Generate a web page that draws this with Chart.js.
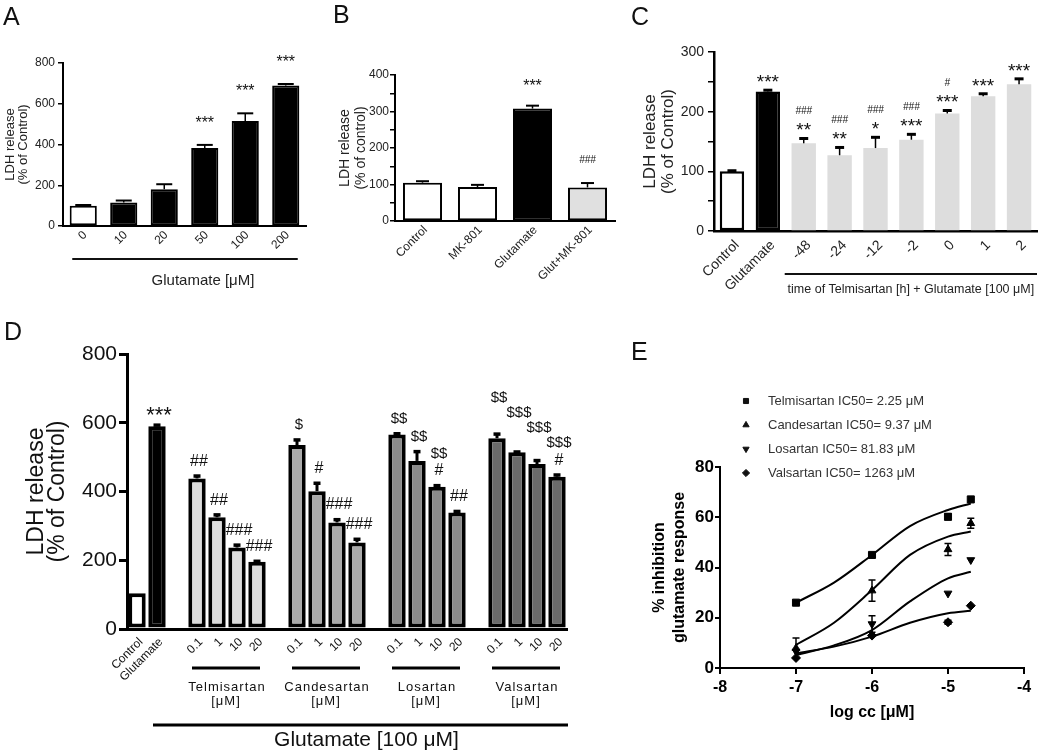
<!DOCTYPE html>
<html><head><meta charset="utf-8">
<script src="https://cdn.jsdelivr.net/npm/chart.js@4.4.1/dist/chart.umd.min.js"></script>
<style>
html,body{margin:0;padding:0;background:#fff;}
#page{position:relative;width:1050px;height:756px;overflow:hidden;background:#fff;}
canvas{position:absolute;}
.lbl{position:absolute;font-family:'Liberation Sans',Arial,sans-serif;font-size:25px;line-height:25px;color:#111;}
</style></head><body><div id="page">
<canvas id="cA" width="310" height="300" style="left:0px;top:0px"></canvas>
<canvas id="cB" width="310" height="300" style="left:310px;top:0px"></canvas>
<canvas id="cC" width="430" height="300" style="left:620px;top:0px"></canvas>
<canvas id="cD" width="600" height="426" style="left:0px;top:330px"></canvas>
<canvas id="cE" width="450" height="426" style="left:600px;top:330px"></canvas>
<div class="lbl" style="left:3px;top:4px">A</div>
<div class="lbl" style="left:333px;top:2px">B</div>
<div class="lbl" style="left:631px;top:4px">C</div>
<div class="lbl" style="left:4px;top:319px">D</div>
<div class="lbl" style="left:631px;top:339px">E</div>
</div>
<script>
// ---------- DATA ----------
// Panel A
const catsA = ['0','10','20','50','100','200'];
const valsA = [100,115,180,383,515,690];
const errsA = [3,10,25,15,38,7];
const notesA = [[],[],[],['***'],['***'],['***']];
// Panel B
const catsB = ['Control','MK-801','Glutamate','Glut+MK-801'];
const valsB = [105,93,308,92];
const errsB = [4,6,8,12];
const notesB = [[],[],['***'],['###']];
// Panel C
const catsC = ['Control','Glutamate','-48','-24','-12','-2','0','1','2'];
const valsC = [100,234,147,127,139,153,197,226,246];
const errsC = [1,2,8,13,18,9,5,4,9];
const notesC = [[],['***'],['###','**'],['###','**'],['###','*'],['###','***'],['#','***'],['***'],['***']];
// Panel D
const ctrlCatsD = ['Control','Glutamate'];
const ctrlValsD = [104,590];
const ctrlErrsD = [0,3];
const ctrlNotesD = [[],['***']];
const drugsD = ['Telmisartan','Candesartan','Losartan','Valsartan'];
const dosesD = ['0.1','1','10','20'];
const telmD = [438,325,237,196];
const candD = [535,401,310,252];
const losD  = [566,489,414,339];
const valD  = [555,514,480,443];
const telmErrD = [7,7,7,1];
const candErrD = [15,23,8,9];
const losErrD  = [2,27,3,3];
const valErrD  = [12,1,10,5];
const telmNotesD = [['##'],['##'],['###'],['###']];
const candNotesD = [['$'],['#'],['###'],['###']];
const losNotesD  = [['$$'],['$$'],['$$','#'],['##']];
const valNotesD  = [['$$'],['$$$'],['$$$'],['$$$','#']];
const groupTitleD = 'Glutamate [100 \u03bcM]';
// Panel E
const drugsE = ['Telmisartan','Candesartan','Losartan','Valsartan'];
const ic50E = ['2.25','9.37','81.83','1263'];
const logCC = [-7,-6,-5,-4.7];
const telmE = [26,45,60.2,67.1];
const candE = [7.9,30.8,47.2,57.6];
const losE  = [6.6,17.5,29.7,43];
const valE  = [4,12.9,18.2,24.8];
const telmErrE = [0,0.8,1.2,0];
const candErrE = [4,4.2,2.4,2];
const losErrE  = [0,3.3,0,0];
const valErrE  = [0,0,0.8,0];
const fitX = [-7,-6.5,-6,-5.5,-5,-4.7];
const telmFit = [26,34,45,56.5,62.9,65.5];
const candFit = [9.2,18,31,45,52.3,54.3];
const losFit  = [5.2,9,15.1,26.5,35.7,38.3];
const valFit  = [5.8,8.5,12.5,18,21.8,22.8];

// ---------- STYLE / HELPERS ----------
const FONT = "'Liberation Sans', Arial, Helvetica, sans-serif";
Chart.defaults.font.family = FONT;
Chart.defaults.color = '#222';

function hline(ctx, x1, x2, y, w, color) {
  ctx.save(); ctx.strokeStyle = color || '#000'; ctx.lineWidth = w;
  ctx.beginPath(); ctx.moveTo(x1, y); ctx.lineTo(x2, y); ctx.stroke(); ctx.restore();
}
function txt(ctx, t, x, y, font, color, align, spacing) {
  ctx.save(); ctx.font = font + ' ' + FONT; ctx.fillStyle = color || '#000';
  ctx.textAlign = align || 'center'; ctx.textBaseline = 'middle';
  if (spacing && 'letterSpacing' in ctx) ctx.letterSpacing = spacing;
  ctx.fillText(t, x, y); ctx.restore();
}

const errorBars = {
  id: 'errorBars',
  afterDatasetsDraw(chart, args, o) {
    if (!o || !o.width) return;
    const ctx = chart.ctx;
    chart.data.datasets.forEach((ds, di) => {
      if (!ds.errors) return;
      const meta = chart.getDatasetMeta(di);
      const ys = chart.scales[meta.yAxisID];
      meta.data.forEach((el, i) => {
        const e = ds.errors[i]; const raw = ds.data[i];
        if (!e || raw == null) return;
        const v = typeof raw === 'object' ? raw.y : raw;
        const up = ys.getPixelForValue(v + e);
        const lo = o.both ? ys.getPixelForValue(v - e) : el.y;
        const h = o.width / 2;
        ctx.save(); ctx.strokeStyle = '#000';
        ctx.lineWidth = o.line; ctx.beginPath();
        ctx.moveTo(el.x, lo); ctx.lineTo(el.x, up); ctx.stroke();
        ctx.lineWidth = o.cap; ctx.beginPath();
        ctx.moveTo(el.x - h, up); ctx.lineTo(el.x + h, up);
        if (o.both) { ctx.moveTo(el.x - h, lo); ctx.lineTo(el.x + h, lo); }
        ctx.stroke(); ctx.restore();
      });
    });
  }
};

// significance marks above bars; blocks that would overlap are pushed upward (right to left)
const barNotes = {
  id: 'barNotes',
  afterDatasetsDraw(chart, args, o) {
    if (!o || !o.fonts) return;
    const ctx = chart.ctx, ys = chart.scales.y;
    const blocks = [];
    chart.data.datasets.forEach((ds, di) => {
      if (!ds.notes) return;
      const meta = chart.getDatasetMeta(di);
      meta.data.forEach((el, i) => {
        const lines = ds.notes[i];
        if (!lines || !lines.length || ds.data[i] == null) return;
        const e = ds.errors ? (ds.errors[i] || 0) : 0;
        const base = ys.getPixelForValue(ds.data[i] + e) - o.gap;
        const n = lines.length;
        let w = 0;
        const items = lines.map((t, k) => {
          const f = o.fonts[t[0]] || o.fonts['*'];
          const font = f.style + ' ' + f.size + 'px ' + FONT;
          ctx.save(); ctx.font = font; w = Math.max(w, ctx.measureText(t).width); ctx.restore();
          return {t, f, font, cy: base - (n - 1 - k) * o.lineGap};
        });
        const hh = (o.boxH || 14) / 2;
        blocks.push({x: el.x + (o.dx || 0), w, items, top: items[0].cy - hh, bottom: base + hh});
      });
    });
    if (o.avoid) {
      const placed = [];
      blocks.slice().sort((a, b) => b.x - a.x).forEach(b => {
        let moved = true, guard = 0;
        while (moved && guard++ < 50) {
          moved = false;
          for (const p of placed) {
            const hOver = Math.abs(b.x - p.x) < (b.w + p.w) / 2;
            const vOver = b.bottom > p.top && b.top < p.bottom;
            if (hOver && vOver) {
              const s = b.bottom - p.top;
              b.top -= s; b.bottom -= s; b.items.forEach(it => it.cy -= s);
              moved = true;
            }
          }
        }
        placed.push(b);
      });
    }
    blocks.forEach(b => {
      b.items.forEach(it => {
        ctx.save(); ctx.fillStyle = o.color || '#000';
        ctx.textAlign = 'center'; ctx.textBaseline = 'alphabetic'; ctx.font = it.font;
        ctx.fillText(it.t, b.x, it.cy + it.f.size * (it.t[0] === '*' ? 0.57 : 0.36));
        ctx.restore();
      });
    });
  }
};

function barChart(id, o) {
  return new Chart(document.getElementById(id), {
    type: 'bar',
    data: { labels: o.labels, datasets: [{
      data: o.values, errors: o.errors, notes: o.notes,
      backgroundColor: o.fill, borderColor: '#000', borderWidth: o.borderW,
      borderSkipped: false, categoryPercentage: 1, barPercentage: o.barPct
    }]},
    options: {
      responsive: false, animation: false, events: [],
      layout: { padding: o.pad },
      plugins: { legend: {display: false}, tooltip: {enabled: false},
                 errorBars: o.err, barNotes: o.note },
      scales: {
        x: {
          grid: {display: false, drawTicks: false},
          border: {display: true, color: '#000', width: o.axisW},
          ticks: {autoSkip: false, maxRotation: 45, minRotation: 45, padding: o.xPad,
                  labelOffset: o.xOff, color: o.txt, font: {size: o.xFont}},
          afterFit: s => { s.height = o.xH; }
        },
        y: {
          min: 0, max: o.ymax,
          ticks: {stepSize: o.step, padding: o.yPad, color: o.txt, font: {size: o.yFont},
                  callback: v => (v % o.major === 0 ? v : '')},
          grid: {display: true, drawOnChartArea: false, drawTicks: true, tickLength: o.tickLen,
                 color: '#000', lineWidth: o.tickW},
          border: {display: true, color: '#000', width: o.axisW},
          title: {display: true, text: o.yTitle, color: o.txt,
                  font: {size: o.titleSize, lineHeight: o.titleLH},
                  padding: {top: o.titlePad, bottom: 0}},
          afterFit: s => { s.width = o.yW; }
        }
      }
    },
    plugins: [errorBars, barNotes].concat(o.extra || [])
  });
}

// ---------- PANEL A ----------
const groupA = { id: 'groupA', afterDraw(c) {
  const x = c.scales.x, ctx = c.ctx, b = c.chartArea.bottom;
  const l = x.getPixelForValue(0) - 11, r = x.getPixelForValue(catsA.length - 1) + 12;
  hline(ctx, l, r, b + 33, 2, '#111');
  txt(ctx, 'Glutamate [\u03bcM]', (l + r) / 2 + 18, b + 55, '15px', '#222');
}};
barChart('cA', {
  labels: catsA, values: valsA, errors: errsA, notes: notesA,
  fill: catsA.map((c, i) => i === 0 ? '#ffffff' : '#000000'), borderW: 2, barPct: 0.67,
  pad: {left: 0, top: 63, right: 4, bottom: 0}, yW: 63, xH: 74,
  ymax: 800, step: 200, major: 200, axisW: 2, tickLen: 5, tickW: 1.5, yPad: 3, yFont: 12,
  xFont: 12, xPad: 2, xOff: 2, txt: '#222',
  yTitle: ['LDH release', '(% of Control)'], titleSize: 13, titleLH: 1.0, titlePad: 3.5,
  err: {width: 16, line: 1.5, cap: 2},
  note: {gap: 26, lineGap: 15, color: '#111', fonts: {'*': {size: 16, style: 'normal'}}},
  extra: [groupA]
});

// ---------- PANEL B ----------
barChart('cB', {
  labels: catsB, values: valsB, errors: errsB, notes: notesB,
  fill: ['#ffffff', '#ffffff', '#000000', '#e0e0e0'], borderW: 2, barPct: 0.71,
  pad: {left: 0, top: 75, right: 5, bottom: 0}, yW: 85, xH: 79,
  ymax: 400, step: 50, major: 100, axisW: 2, tickLen: 5, tickW: 1.5, yPad: 1, yFont: 12,
  xFont: 12, xPad: 2, xOff: 3, txt: '#222',
  yTitle: ['LDH release', '(% of control)'], titleSize: 14, titleLH: 1.143, titlePad: 27,
  err: {width: 13, line: 1.5, cap: 2},
  note: {gap: 24, lineGap: 15, color: '#111',
         fonts: {'*': {size: 16, style: 'normal'}, '#': {size: 10, style: 'italic'}}}
});

// ---------- PANEL C ----------
const groupC = { id: 'groupC', afterDraw(c) {
  const x = c.scales.x, ctx = c.ctx, b = c.chartArea.bottom;
  const l = x.getPixelForValue(2) - 19, r = c.chartArea.right;
  hline(ctx, l, r, b + 43, 2, '#111');
  txt(ctx, 'time of Telmisartan [h] + Glutamate [100 \u03bcM]', (l + r) / 2, b + 59, '12.5px', '#222');
}};
barChart('cC', {
  labels: catsC, values: valsC, errors: errsC, notes: notesC,
  fill: catsC.map((c, i) => i === 0 ? '#ffffff' : (i === 1 ? '#000000' : '#dddddd')),
  borderW: catsC.map((c, i) => i < 2 ? 2.5 : 0), barPct: 0.68,
  pad: {left: 0, top: 52, right: 13, bottom: 0}, yW: 94, xH: 69,
  ymax: 300, step: 50, major: 100, axisW: 2.5, tickLen: 6, tickW: 1.5, yPad: 4, yFont: 14,
  xFont: 14, xPad: 6, xOff: 5, txt: '#222',
  yTitle: ['LDH release', '(% of Control)'], titleSize: 17, titleLH: 1.059, titlePad: 21,
  err: {width: 9, line: 1.5, cap: 3},
  note: {gap: 13, lineGap: 15, color: '#111',
         fonts: {'*': {size: 19, style: 'normal'}, '#': {size: 10, style: 'italic'}}},
  extra: [groupC]
});

// ---------- PANEL D ----------
const drugValsD = [telmD, candD, losD, valD];
const drugErrsD = [telmErrD, candErrD, losErrD, valErrD];
const drugNotesD = [telmNotesD, candNotesD, losNotesD, valNotesD];
const drugColorsD = ['#dcdcdc', '#a9a9a9', '#8b8b8b', '#6b6b6b'];
const labelsD = ctrlCatsD.slice(), valuesD = ctrlValsD.slice(), errorsD = ctrlErrsD.slice(),
      notesD = ctrlNotesD.slice(), fillD = ['#ffffff', '#000000'], groupIdxD = [];
drugsD.forEach((d, k) => {
  labelsD.push(''); valuesD.push(null); errorsD.push(0); notesD.push([]); fillD.push('#ffffff');
  groupIdxD.push(labelsD.length);
  dosesD.forEach((dose, j) => {
    labelsD.push(dose); valuesD.push(drugValsD[k][j]); errorsD.push(drugErrsD[k][j]);
    notesD.push(drugNotesD[k][j]); fillD.push(drugColorsD[k]);
  });
});
const groupD = { id: 'groupD', afterDraw(c) {
  const x = c.scales.x, ctx = c.ctx, b = c.chartArea.bottom;
  drugsD.forEach((d, k) => {
    const f = groupIdxD[k];
    const l = x.getPixelForValue(f) - 5, r = x.getPixelForValue(f + dosesD.length - 1) + 3;
    hline(ctx, l, r, b + 39, 3, '#000');
    txt(ctx, d, (l + r) / 2 + 1, b + 58, '13px', '#111', 'center', '1px');
    txt(ctx, '[\u03bcM]', (l + r) / 2, b + 72, '13px', '#111', 'center', '1px');
  });
  const l2 = x.getPixelForValue(1) - 4, r2 = c.chartArea.right + 1;
  hline(ctx, l2, r2, b + 96, 3, '#000');
  txt(ctx, groupTitleD, (l2 + r2) / 2 + 6, b + 111, '21px', '#111');
}};
barChart('cD', {
  labels: labelsD, values: valuesD, errors: errorsD, notes: notesD,
  fill: fillD, borderW: 4, barPct: 0.87,
  pad: {left: 0, top: 24, right: 33, bottom: 0}, yW: 127, xH: 127,
  ymax: 800, step: 200, major: 200, axisW: 3, tickLen: 8, tickW: 3, yPad: 2, yFont: 21,
  xFont: 12, xPad: 6, xOff: 4, txt: '#111',
  yTitle: ['LDH release', '(% of Control)'], titleSize: 23, titleLH: 0.913, titlePad: 26.5,
  err: {width: 7, line: 3, cap: 3.5},
  note: {gap: 16, lineGap: 17, boxH: 15, avoid: true, dx: 2, color: '#111',
         fonts: {'*': {size: 22, style: 'normal'}, '#': {size: 16, style: 'normal'},
                 '$': {size: 15, style: 'normal'}}},
  extra: [groupD]
});

// ---------- PANEL E ----------
const pointValsE = [telmE, candE, losE, valE];
const pointErrsE = [telmErrE, candErrE, losErrE, valErrE];
const fitValsE = [telmFit, candFit, losFit, valFit];
const markerE = [{ps: 'rect', r: 5, rot: 0}, {ps: 'triangle', r: 4.5, rot: 0},
                 {ps: 'triangle', r: 4.5, rot: 180}, {ps: 'rectRot', r: 4.5, rot: 0}];
const datasetsE = [];
fitValsE.forEach((arr, k) => datasetsE.push({
  type: 'line', label: drugsE[k] + ' fit', data: fitX.map((x, i) => ({x, y: arr[i]})),
  showLine: true, pointRadius: 0, borderColor: '#000', borderWidth: 2,
  cubicInterpolationMode: 'monotone', fill: false, isFit: true
}));
pointValsE.forEach((arr, k) => datasetsE.push({
  type: 'scatter', label: drugsE[k] + ' IC50= ' + ic50E[k] + ' \u03bcM',
  data: logCC.map((x, i) => ({x, y: arr[i]})), errors: pointErrsE[k],
  showLine: false, pointStyle: markerE[k].ps, pointRadius: markerE[k].r,
  rotation: markerE[k].rot, backgroundColor: '#000', borderColor: '#000', borderWidth: 1
}));
const legendE = { id: 'legendE', afterDraw(c) {
  const ctx = c.ctx, a = c.chartArea;
  const pts = c.data.datasets.filter(d => !d.isFit);
  pts.forEach((d, i) => {
    const y = a.top - 66 + i * 24, x = a.left + 26;
    ctx.save(); ctx.fillStyle = '#111'; ctx.strokeStyle = '#111';
    Chart.helpers.drawPoint(ctx, {pointStyle: d.pointStyle, radius: 3.6, rotation: d.rotation, borderWidth: 1}, x, y);
    ctx.restore();
    txt(ctx, d.label, a.left + 48, y, '13px', '#333', 'left');
  });
}};
new Chart(document.getElementById('cE'), {
  type: 'scatter',
  data: { datasets: datasetsE },
  options: {
    responsive: false, animation: false, events: [],
    layout: { padding: {left: 0, top: 137, right: 26, bottom: 0} },
    plugins: { legend: {display: false}, tooltip: {enabled: false},
               errorBars: {width: 7, line: 1.5, cap: 1.5, both: true} },
    scales: {
      x: {
        type: 'linear', min: -8, max: -4,
        ticks: {stepSize: 1, padding: 4, color: '#000', font: {size: 16, weight: 'bold'}},
        grid: {display: true, drawOnChartArea: false, drawTicks: true, tickLength: 6, color: '#000', lineWidth: 2},
        border: {display: true, color: '#000', width: 2},
        title: {display: true, text: 'log cc [\u03bcM]', color: '#000',
                font: {size: 16, weight: 'bold'}, padding: {top: 0, bottom: 34}},
        afterFit: s => { s.height = 88; }
      },
      y: {
        min: 0, max: 80,
        ticks: {stepSize: 20, padding: 1, color: '#000', font: {size: 17, weight: 'bold'}},
        grid: {display: true, drawOnChartArea: false, drawTicks: true, tickLength: 5, color: '#000', lineWidth: 2},
        border: {display: true, color: '#000', width: 2},
        title: {display: true, text: ['% inhibition', 'glutamate response'], color: '#000',
                font: {size: 16, weight: 'bold', lineHeight: 1.25}, padding: {top: 50, bottom: 0}},
        afterFit: s => { s.width = 120; }
      }
    }
  },
  plugins: [errorBars, legendE]
});
</script>
</body></html>
